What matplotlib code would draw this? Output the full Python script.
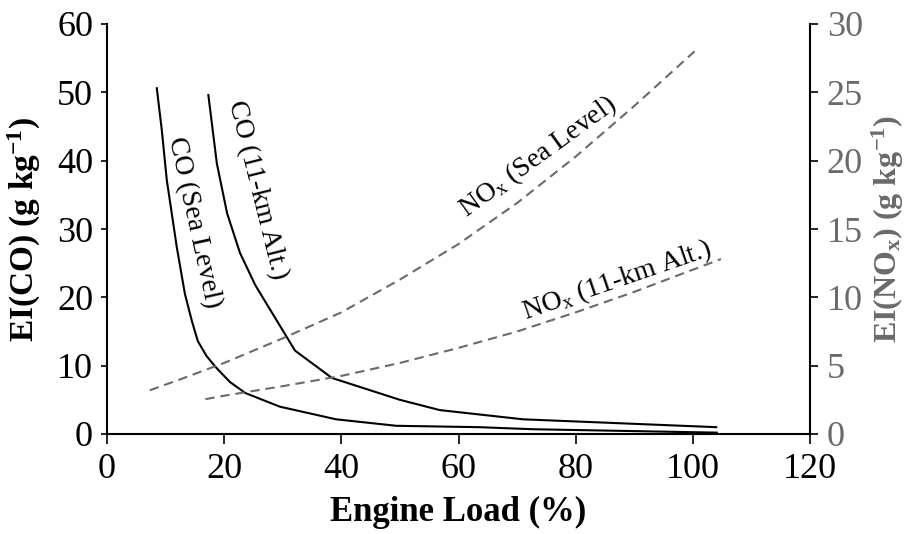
import numpy as np
import matplotlib
matplotlib.use("Agg")
import matplotlib.pyplot as plt

plt.rcParams['font.family'] = ['Liberation Serif', 'DejaVu Serif']
plt.rcParams['mathtext.fontset'] = 'custom'
plt.rcParams['mathtext.rm'] = 'Liberation Serif'
plt.rcParams['mathtext.it'] = 'Liberation Serif:italic'
plt.rcParams['mathtext.bf'] = 'Liberation Serif:bold'

# ---- data ----
co_sea_x = [8.5, 9.35, 10.2, 11.9, 13.3, 14.5, 15.5, 17.0, 18.75, 21.0, 23.6, 29.5, 39.1, 49.4, 63.5, 72.6, 104.1]
co_sea_y = [50.6, 44.5, 37.2, 27.4, 20.5, 16.5, 13.6, 11.4, 9.6, 7.6, 6.0, 4.0, 2.15, 1.2, 1.0, 0.7, 0.2]

co_alt_x = [17.3, 18.75, 20.5, 22.7, 25.3, 28.2, 32.1, 38.4, 50.0, 56.8, 71.0, 104.0]
co_alt_y = [49.6, 39.6, 32.3, 26.5, 21.8, 17.7, 12.2, 8.2, 5.0, 3.5, 2.15, 1.0]

nox_sea_x = [7.3, 12.5, 20.0, 30.0, 40.0, 50.0, 60.0, 70.0, 80.0, 90.0, 100.3]
nox_sea_y = [3.2, 4.0, 5.2, 7.0, 8.9, 11.3, 13.9, 16.9, 20.3, 24.0, 28.0]

nox_alt_x = [16.8, 20.0, 30.0, 40.0, 50.0, 60.0, 70.0, 80.0, 90.0, 104.8]
nox_alt_y = [2.55, 2.8, 3.5, 4.25, 5.2, 6.3, 7.5, 8.9, 10.4, 12.8]

x_ticks = [0, 20, 40, 60, 80, 100, 120]
co_ticks = [0, 10, 20, 30, 40, 50, 60]
nox_ticks = [0, 5, 10, 15, 20, 25, 30]

gray = '#6a6a6a'

fig = plt.figure(figsize=(9.09, 5.34), dpi=100)
ax = fig.add_axes([107/909, 100/534, 703/909, 410/534])
ax2 = ax.twinx()

ax.plot(co_sea_x, co_sea_y, color='black', lw=1.5)
ax.plot(co_alt_x, co_alt_y, color='black', lw=1.5)
ax2.plot(nox_sea_x, nox_sea_y, color=gray, lw=1.5, ls=(0, (4.5, 2.8)))
ax2.plot(nox_alt_x, nox_alt_y, color=gray, lw=1.5, ls=(0, (4.5, 2.8)))

ax.set_xlim(0, 120)
ax.set_ylim(0, 60)
ax2.set_ylim(0, 30)
ax.set_xticks(x_ticks)
ax.set_yticks(co_ticks)
ax2.set_yticks(nox_ticks)

for a in (ax, ax2):
    a.spines['top'].set_visible(False)
    for s in a.spines.values():
        s.set_linewidth(1.5)
ax.spines['right'].set_visible(False)
ax2.spines['left'].set_visible(False)
ax2.spines['bottom'].set_visible(False)

ax.tick_params(axis='y', labelsize=26, width=1.2, length=4, direction='out', pad=6)
ax.tick_params(axis='x', labelsize=26, width=1.2, length=7, direction='out', pad=7)
ax2.tick_params(axis='y', labelsize=26, width=1.2, length=6, direction='out', pad=6, labelcolor=gray)

ax.set_xlabel('Engine Load (%)', fontsize=25, fontweight='bold', labelpad=7)
ax.set_ylabel(r'EI(CO) (g kg$^{\mathbf{-1}}$)', fontsize=24, fontweight='bold', labelpad=10)
ax2.set_ylabel(r'EI(NO$_{\mathbf{x}}$) (g kg$^{\mathbf{-1}}$)', fontsize=23, fontweight='bold',
               color=gray, labelpad=5)

ax.text(14.9, 31.0, 'CO (Sea Level)', fontsize=20, rotation=-77.5, ha='center', va='center')
ax.text(25.6, 35.7, 'CO (11-km Alt.)', fontsize=20, rotation=-76, ha='center', va='center')
ax.text(73.5, 40.5, r'NO$_\mathrm{x}$ (Sea Level)', fontsize=20, rotation=36, ha='center', va='center')
ax.text(87.0, 22.5, r'NO$_\mathrm{x}$ (11-km Alt.)', fontsize=20, rotation=19, ha='center', va='center')

fig.savefig('out.png', dpi=100)
